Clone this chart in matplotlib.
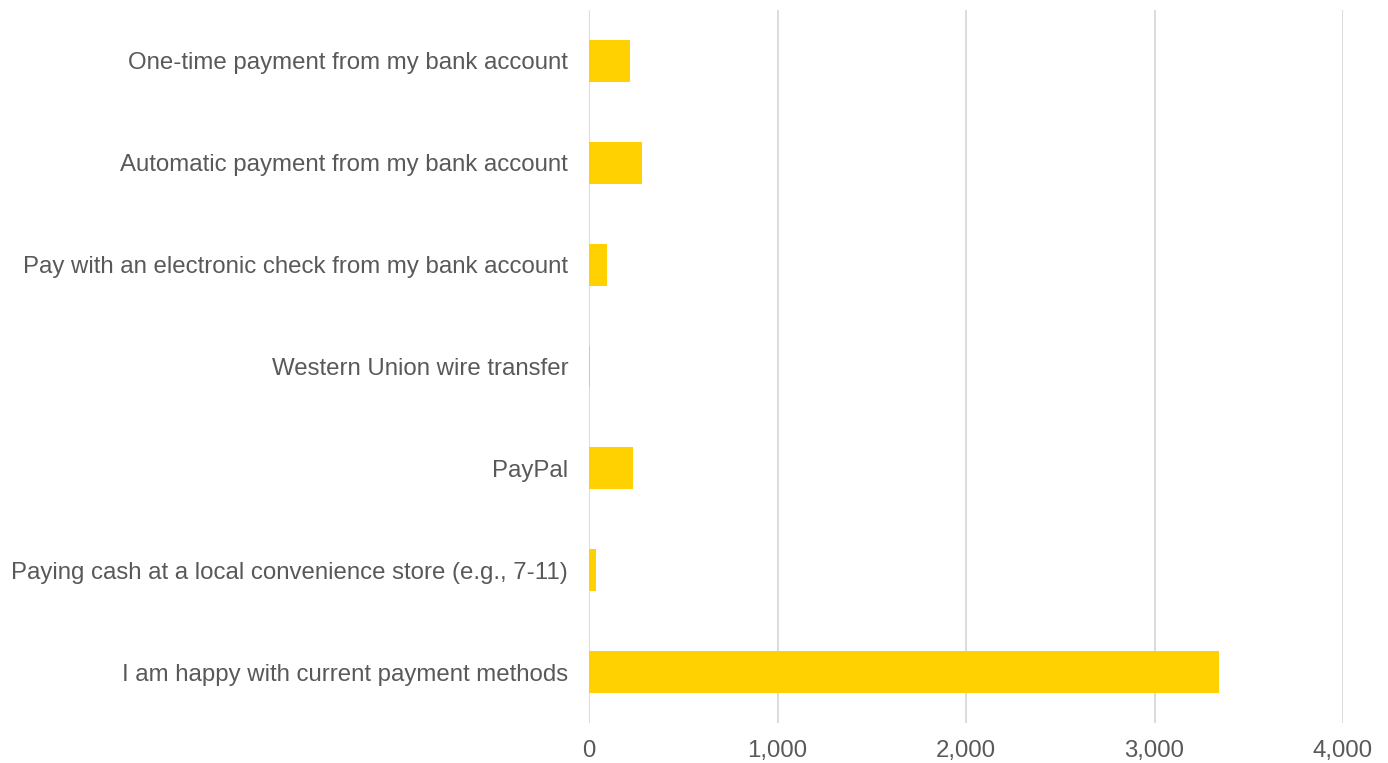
import matplotlib
matplotlib.use("Agg")
import matplotlib.pyplot as plt
from matplotlib.ticker import FuncFormatter

categories = [
    "One-time payment from my bank account",
    "Automatic payment from my bank account",
    "Pay with an electronic check from my bank account",
    "Western Union wire transfer",
    "PayPal",
    "Paying cash at a local convenience store (e.g., 7-11)",
    "I am happy with current payment methods",
]
values = [217, 283, 97, 7, 232, 39, 3344]
xticks = [0, 1000, 2000, 3000, 4000]

plt.rcParams['font.family'] = ['Liberation Sans', 'DejaVu Sans']
fig = plt.figure(figsize=(13.88, 7.63), dpi=100)
ax = fig.add_axes([589/1388, 1-723/763, (1343-589)/1388, (723-10)/763])

ypos = list(range(len(categories)))
ax.barh(ypos, values, height=0.41, color="#FFD100", zorder=3)
ax.set_yticks(ypos)
ax.set_yticklabels(categories)
ax.set_ylim(len(categories)-0.5, -0.5)
ax.set_xlim(0, 4000)
ax.set_xticks(xticks)
ax.xaxis.set_major_formatter(FuncFormatter(lambda v, p: f"{int(v):,}"))
ax.grid(axis='x', color="#D9D9D9", linewidth=1.3, zorder=0)
ax.grid(axis='y', visible=False)
for s in ax.spines.values():
    s.set_visible(False)
ax.tick_params(axis='both', length=0, colors="#595959", labelsize=17.3)
ax.tick_params(axis='y', pad=15)
ax.tick_params(axis='x', pad=12)
fig.savefig("out.png", dpi=100)
